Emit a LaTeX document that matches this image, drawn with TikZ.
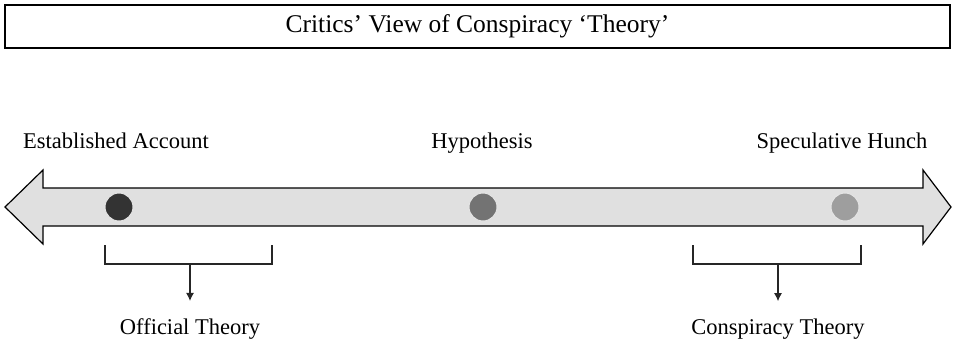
\documentclass[tikz,border=0pt]{standalone}
\usepackage{fontspec}
\setmainfont{Liberation Serif}
\usetikzlibrary{arrows.meta}

\begin{document}
\begin{tikzpicture}[x=1pt, y=-1pt,
  lbl/.style={font=\fontsize{22.5}{26}\selectfont, inner sep=0pt, anchor=base},
  spot/.style={circle, draw=black!10, line width=1pt, minimum size=28pt, inner sep=0pt},
  bracket/.style={line width=1.2pt, draw=black!85}]
\useasboundingbox (0,0) rectangle (955,343);

% Title
\node[draw, line width=1.5pt, minimum width=945pt, minimum height=43pt, font=\fontsize{25.5}{28}\selectfont] (title) at (477.5,26.5) {Critics' View of Conspiracy `Theory'};

% Spectrum arrow
\draw[line width=1.2pt, fill=black!12] (5,207) -- (43,170) -- (43,188) -- (923,188) -- (923,170) -- (951,207) -- (923,244) -- (923,226) -- (43,226) -- (43,244) -- cycle;

% Points on the spectrum
\node[spot, fill=black!80] (est) at (119,207) {};
\node[spot, fill=black!55] (hyp) at (483,207) {};
\node[spot, fill=black!38] (hun) at (845,207) {};

% Spectrum labels
\node[lbl] (estlbl) at (116,148) {Established Account};
\node[lbl] (hyplbl) at (482,148) {Hypothesis};
\node[lbl] (hunlbl) at (842,148) {Speculative Hunch};

% Brackets
\draw[bracket] (105,245) -- (105,264) -- (272,264) -- (272,245);
\draw[bracket] (693,245) -- (693,264) -- (861,264) -- (861,245);
\coordinate (offmid) at (190,264);
\coordinate (conmid) at (778,264);

% Theory labels
\node[lbl] (official) at (190,334) {Official Theory};
\node[lbl] (conspiracy) at (778,334) {Conspiracy Theory};

% Arrows
\draw[bracket, -{Latex[length=8pt, width=8pt]}, shorten >=17pt] (offmid) -- (official.north);
\draw[bracket, -{Latex[length=8pt, width=8pt]}, shorten >=17pt] (conmid) -- (conspiracy.north);

\end{tikzpicture}
\end{document}
